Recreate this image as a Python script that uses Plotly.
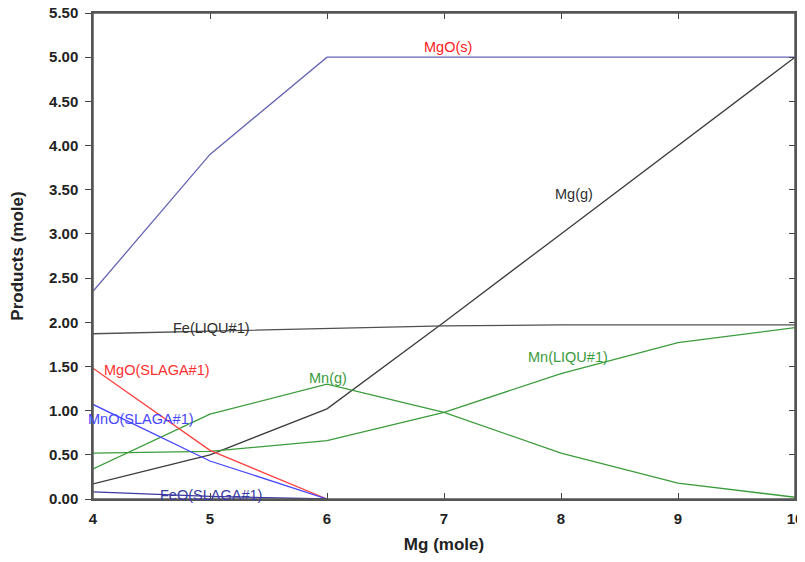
import plotly.graph_objects as go

x = [4, 5, 6, 7, 8, 9, 10]
x_slag = [4, 5, 6]

mgo_s = [2.35, 3.90, 5.00, 5.00, 5.00, 5.00, 5.00]
mg_g = [0.17, 0.50, 1.02, 2.00, 3.00, 4.00, 5.00]
fe_liq = [1.87, 1.90, 1.93, 1.96, 1.97, 1.97, 1.97]
mn_g = [0.34, 0.96, 1.30, 0.98, 0.52, 0.18, 0.02]
mn_liq = [0.52, 0.54, 0.66, 0.98, 1.42, 1.77, 1.94]
mgo_slag = [1.48, 0.55, 0.00]
mno_slag = [1.07, 0.43, 0.00]
feo_slag = [0.08, 0.03, 0.00]

y_ticks = [0, 0.5, 1, 1.5, 2, 2.5, 3, 3.5, 4, 4.5, 5, 5.5]
y_tick_text = ["%.2f" % v for v in y_ticks]

series = [
    ("MgO(s)", x, mgo_s, "#6464b4"),
    ("Mg(g)", x, mg_g, "#3c3c3c"),
    ("Fe(LIQU#1)", x, fe_liq, "#505050"),
    ("Mn(g)", x, mn_g, "#3c9c3c"),
    ("Mn(LIQU#1)", x, mn_liq, "#3c9c3c"),
    ("MgO(SLAGA#1)", x_slag, mgo_slag, "#ff4040"),
    ("MnO(SLAGA#1)", x_slag, mno_slag, "#4646ff"),
    ("FeO(SLAGA#1)", x_slag, feo_slag, "#3a3aa0"),
]

fig = go.Figure()
for name, xs, ys, col in series:
    fig.add_trace(go.Scatter(x=xs, y=ys, mode="lines", name=name,
                             line=dict(color=col, width=1.3), showlegend=False,
                             cliponaxis=False))

labels = [
    ("MgO(s)", 7.03, 5.12, "#ff2020"),
    ("Mg(g)", 8.11, 3.45, "#303030"),
    ("Fe(LIQU#1)", 5.015, 1.93, "#303030"),
    ("MgO(SLAGA#1)", 4.545, 1.46, "#ff3030"),
    ("Mn(g)", 6.01, 1.37, "#3c9c3c"),
    ("Mn(LIQU#1)", 8.06, 1.61, "#3c9c3c"),
    ("MnO(SLAGA#1)", 4.41, 0.90, "#4646ff"),
    ("FeO(SLAGA#1)", 5.01, 0.05, "#3a3aa0"),
]
for t, lx, ly, c in labels:
    fig.add_annotation(x=lx, y=ly, text=t, showarrow=False,
                       font=dict(family="Liberation Sans, Arial", size=14.5, color=c))

fig.add_trace(go.Scatter(x=[4], y=[0], yaxis="y2", mode="markers",
                         marker=dict(opacity=0), showlegend=False, hoverinfo="skip"))

fig.add_shape(type="rect", xref="paper", yref="paper", x0=0, x1=1, y0=0, y1=1,
              line=dict(color="#555", width=1.5), layer="above")

tick_font = dict(size=15, family="Liberation Sans, Arial", weight="bold", color="#222")

fig.update_layout(
    width=789, height=546,
    margin=dict(l=85, r=2, t=5, b=55),
    paper_bgcolor="white", plot_bgcolor="white",
    font=dict(family="Liberation Sans, Arial", color="#222"),
    xaxis=dict(range=[4, 10], tickvals=[4, 5, 6, 7, 8, 9, 10],
               ticks="inside", ticklen=6, tickcolor="#444",
               showline=True, linecolor="#555", linewidth=1.5, mirror="ticks",
               showgrid=False, zeroline=False, automargin=False,
               ticklabelstandoff=5, ticklabeloverflow="allow",
               tickfont=tick_font,
               title=dict(text="<b>Mg (mole)</b>", font=dict(size=17), standoff=18)),
    yaxis=dict(range=[0, 5.5], tickvals=y_ticks, ticktext=y_tick_text,
               ticks="outside", ticklen=6, tickcolor="#444",
               showline=True, linecolor="#555", linewidth=1.5, mirror=True,
               showgrid=False, zeroline=False, automargin=False,
               ticklabelstandoff=4, ticklabeloverflow="allow",
               tickfont=tick_font,
               title=dict(text="<b>Products (mole)</b>", font=dict(size=17), standoff=22)),
    yaxis2=dict(range=[0, 5.5], tickvals=y_ticks, overlaying="y", side="right",
                ticks="inside", ticklen=6, tickcolor="#444", showticklabels=False,
                showgrid=False, zeroline=False, showline=False, automargin=False),
)

fig.write_html("out.html")
